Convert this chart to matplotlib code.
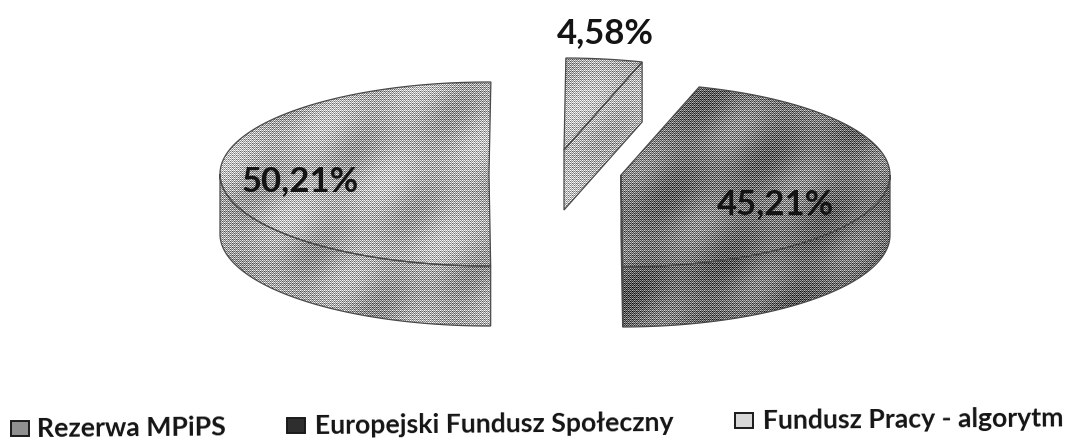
import numpy as np
import matplotlib
matplotlib.use("Agg")
import matplotlib.pyplot as plt
from matplotlib.patches import Polygon, Rectangle

labels = ["Rezerwa MPiPS", "Europejski Fundusz Społeczny", "Fundusz Pracy - algorytm"]
shares = [4.58, 45.21, 50.21]
share_text = ["4,58%", "45,21%", "50,21%"]

# layout of the exploded pie, in pixels of the 1070x439 canvas
centers = [(564, 151), (621, 176), (489, 175)]
label_pos = [(605, 33), (775, 204), (300, 181)]
tones = [0.70, 0.47, 0.68]
rx, ry, depth = 269, 92, 60
start_angle = 0.4

# the page was scanned slightly crooked, so the legend climbs to the right
legend_box_x = [11, 287, 735]
legend_text_x = [37, 315, 763]
legend_base_y = [437, 434, 429]
legend_tones = ["#8f8f8f", "#2e2e2e", "#d8d8d8"]

W, H = 1070, 439
fig = plt.figure(figsize=(W / 100, H / 100), dpi=100, facecolor="white")
ax = fig.add_axes([0, 0, 1, 1])
ax.set_xlim(0, W)
ax.set_ylim(H, 0)
ax.axis("off")

# scanned halftone look: soft diagonal bands pushed through a small dither
yy, xx = np.mgrid[0:H, 0:W]
bands = np.sin((xx + yy) / 19.0) * np.sin((xx - yy) / 43.0)
bayer = np.array([[0, 8, 2, 10], [12, 4, 14, 6], [3, 11, 1, 9], [15, 7, 13, 5]]) / 15.0
dither = bayer[yy % 4, xx % 4] - 0.5


def rim(cx, cy, a0, a1, drop=0):
    t = np.radians(np.linspace(a0, a1, max(int(abs(a1 - a0)) * 2, 2)))
    return np.column_stack([cx + rx * np.sin(t), cy - ry * np.cos(t) + drop])


def shade(points, tone, edge="#4a4a4a"):
    poly = Polygon(points, closed=True, facecolor="none", edgecolor="none")
    ax.add_patch(poly)
    img = tone + 0.09 * bands + 0.7 * dither
    im = ax.imshow(np.clip(img, 0, 1), cmap="gray", vmin=0, vmax=1, extent=(0, W, H, 0),
                   interpolation="nearest", aspect="auto", zorder=1)
    im.set_clip_path(poly)
    ax.add_patch(Polygon(points, closed=True, facecolor="none", edgecolor=edge, lw=0.9, zorder=2))


ends = start_angle + np.cumsum(shares) * 360 / 100
starts = np.concatenate([[start_angle], ends[:-1]])

for (cx, cy), a0, a1, tone in zip(centers, starts, ends, tones):
    # front wall
    lo, hi = max(a0, 90), min(a1, 270)
    if lo < hi:
        top_edge = rim(cx, cy, lo, hi)
        low_edge = rim(cx, cy, lo, hi, depth)[::-1]
        shade(np.vstack([top_edge, low_edge]), tone - 0.04)
    # cut face, only seen when it turns towards the viewer
    if 0 < a1 < 180:
        end = rim(cx, cy, a1, a1)[0]
        face = [(cx, cy), end, (end[0], end[1] + depth), (cx, cy + depth)]
        shade(np.array(face), tone + 0.02)
    # top surface
    shade(np.vstack([[(cx, cy)], rim(cx, cy, a0, a1)]), tone)

for txt, (x, y) in zip(share_text, label_pos):
    ax.text(x, y, txt, ha="center", va="center", fontsize=25, fontweight="bold",
            family=["Lato", "DejaVu Sans"], color="#141414", zorder=5)

for name, bx, tx, by, col in zip(labels, legend_box_x, legend_text_x, legend_base_y, legend_tones):
    ax.add_patch(Rectangle((bx, by - 15), 18, 15, facecolor=col, edgecolor="#1a1a1a", lw=1.4))
    ax.text(tx, by, name, ha="left", va="baseline", fontsize=19.2, fontweight="bold", rotation=0.5,
            rotation_mode="anchor", family=["Lato", "DejaVu Sans"], color="#141414")

fig.savefig("out.png", dpi=100)
